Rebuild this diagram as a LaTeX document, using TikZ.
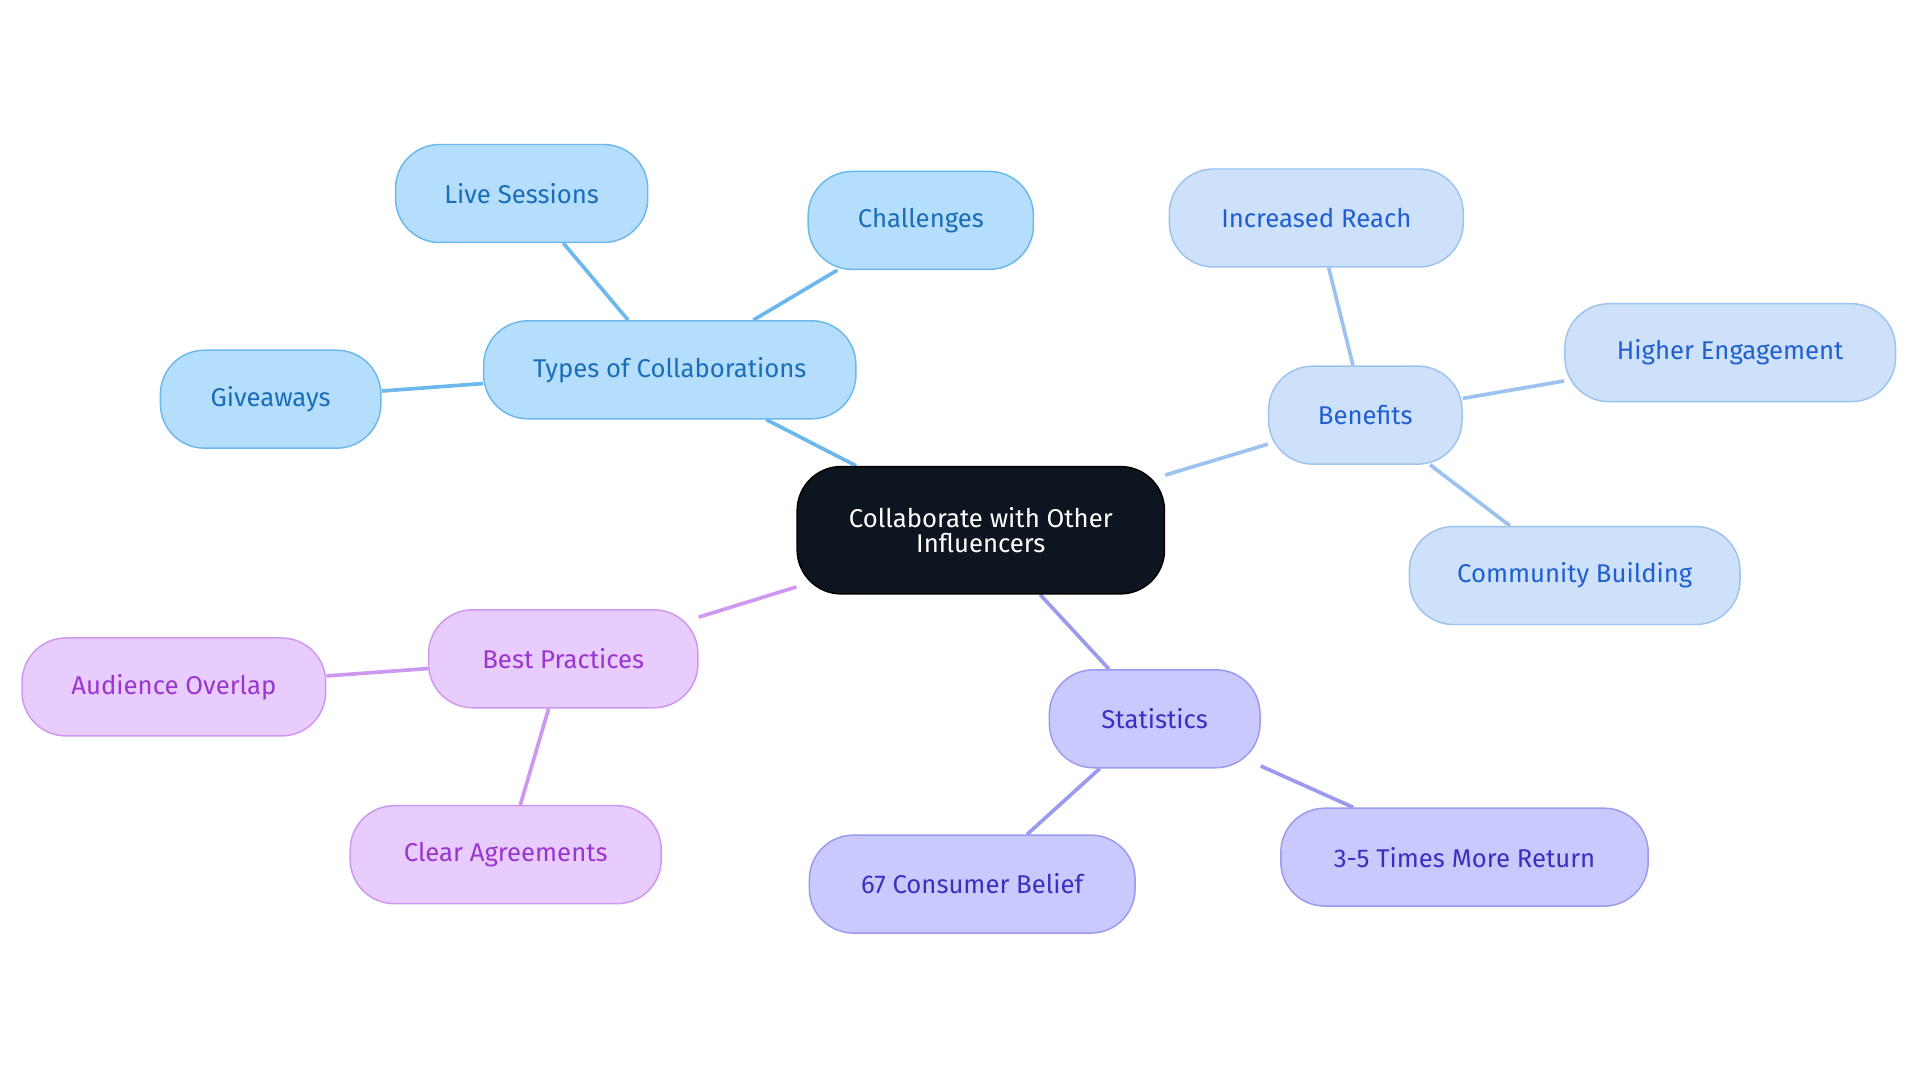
\documentclass[tikz,border=0pt]{standalone}
\usepackage{fontspec}
\setmainfont{Fira Sans}
\usetikzlibrary{backgrounds}
\definecolor{rootfill}{HTML}{0D1520}
\definecolor{tfill}{HTML}{B5DEFC}\definecolor{tdraw}{HTML}{6CB8EC}\definecolor{ttext}{HTML}{1A6DB8}
\definecolor{bfill}{HTML}{CDE1FB}\definecolor{bdraw}{HTML}{9CC3F0}\definecolor{btext}{HTML}{1F5FCF}
\definecolor{sfill}{HTML}{C9C9FD}\definecolor{sdraw}{HTML}{9A9AF0}\definecolor{stext}{HTML}{3A2FC0}
\definecolor{pfill}{HTML}{E8CCFD}\definecolor{pdraw}{HTML}{CF98F0}\definecolor{ptext}{HTML}{9A35CF}
\begin{document}
\begin{tikzpicture}[x=1pt,y=-1pt,
  box/.style={rounded corners=36pt,minimum height=80pt,line width=1.2pt,inner sep=0pt,
    font=\fontsize{21}{25}\selectfont,align=center},
  tbox/.style={box,fill=tfill,draw=tdraw,text=ttext},
  bbox/.style={box,fill=bfill,draw=bdraw,text=btext},
  sbox/.style={box,fill=sfill,draw=sdraw,text=stext},
  pbox/.style={box,fill=pfill,draw=pdraw,text=ptext},
  link/.style={line width=3pt}]
\useasboundingbox (0,0) rectangle (1568,884);
%%
\node (root) at (801,433) [box,fill=rootfill,draw=black,text=white,minimum width=300pt,minimum height=104pt] {Collaborate with Other\\[-4pt]Influencers};
\node (types) at (547,302) [tbox,minimum width=304pt] {Types of Collaborations};
\node (live) at (426,158) [tbox,minimum width=206pt] {Live Sessions};
\node (chall) at (752,180) [tbox,minimum width=184pt] {Challenges};
\node (give) at (221,326) [tbox,minimum width=180pt] {Giveaways};
\node (bene) at (1115,339) [bbox,minimum width=158pt] {Benefits};
\node (reach) at (1075,178) [bbox,minimum width=240pt] {Increased Reach};
\node (engage) at (1413,288) [bbox,minimum width=270pt] {Higher Engagement};
\node (comm) at (1286,470) [bbox,minimum width=270pt] {Community Building};
\node (stats) at (943,587) [sbox,minimum width=172pt] {Statistics};
\node (belief) at (794,722) [sbox,minimum width=266pt] {67 Consumer Belief};
\node (ret) at (1196,700) [sbox,minimum width=300pt] {3-5 Times More Return};
\node (best) at (460,538) [pbox,minimum width=220pt] {Best Practices};
\node (overlap) at (142,561) [pbox,minimum width=248pt] {Audience Overlap};
\node (agree) at (413,698) [pbox,minimum width=254pt] {Clear Agreements};
%
\begin{scope}[on background layer]
\draw [link,tdraw] (root) -- (types);
\draw [link,tdraw] (types) -- (live);
\draw [link,tdraw] (types) -- (chall);
\draw [link,tdraw] (types) -- (give);
\draw [link,bdraw] (root) -- (bene);
\draw [link,bdraw] (bene) -- (reach);
\draw [link,bdraw] (bene) -- (engage);
\draw [link,bdraw] (bene) -- (comm);
\draw [link,sdraw] (root) -- (stats);
\draw [link,sdraw] (stats) -- (belief);
\draw [link,sdraw] (stats) -- (ret);
\draw [link,pdraw] (root) -- (best);
\draw [link,pdraw] (best) -- (overlap);
\draw [link,pdraw] (best) -- (agree);
\end{scope}
%
\end{tikzpicture}
\end{document}
